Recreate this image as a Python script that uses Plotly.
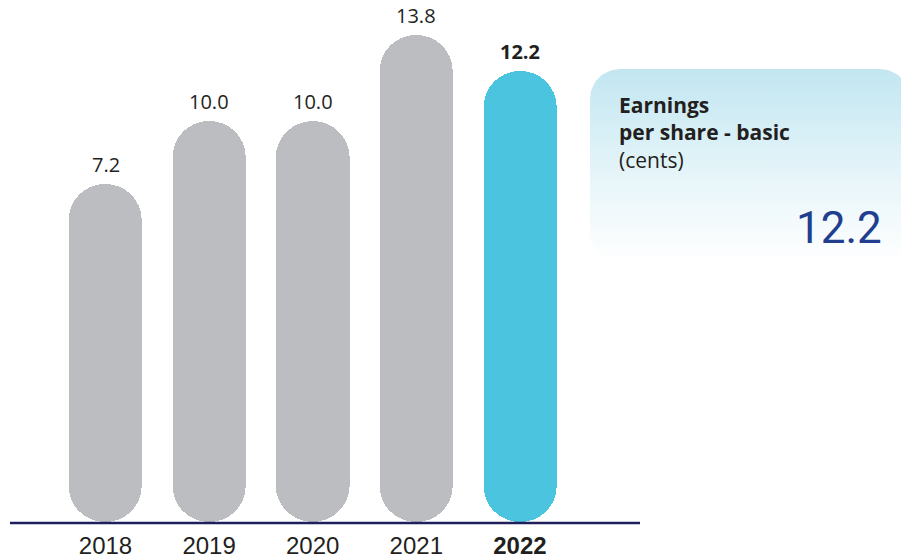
import numpy as np
import plotly.graph_objects as go

# ---- data ----
years = ["2018", "2019", "2020", "2021", "2022"]
eps_cents = [7.2, 10.0, 10.0, 13.8, 12.2]
highlight_year = "2022"
box_title = "<b>Earnings<br>per share - basic</b><br>(cents)"
box_value = "12.2"

# ---- style ----
GRAY = "#bcbdc1"
CYAN = "#4bc5df"
TEXT = "#231f20"
NAVY = "#1f1f5c"
BIG = "#213f8e"
W, H = 901, 558
BASE = -7.84          # axis value at the drawn baseline
PX_PER_UNIT = 22.5
Y_BOTTOM_PX = 522

colors = [CYAN if y == highlight_year else GRAY for y in years]
fig = go.Figure()

# upper half: rounded top
fig.add_trace(go.Bar(
    x=years, y=[v - BASE for v in eps_cents], base=BASE,
    marker=dict(color=colors, cornerradius="50%", line=dict(width=0)),
    width=0.705, hoverinfo="skip", showlegend=False))
# lower half: rounded bottom (bar drawn downward from value)
fig.add_trace(go.Bar(
    x=years, y=[BASE - v for v in eps_cents], base=eps_cents,
    marker=dict(color=colors, cornerradius="50%", line=dict(width=0)),
    width=0.705, hoverinfo="skip", showlegend=False))

# value labels
for i, (y, v) in enumerate(zip(years, eps_cents)):
    txt = f"{v:.1f}"
    if y == highlight_year:
        txt = f"<b>{txt}</b>"
    fig.add_annotation(x=i, y=v, text=txt, showarrow=False, yanchor="bottom",
                       yshift=4, font=dict(family="Open Sans", size=20, color=TEXT))

# gradient info box (pixel-coordinate overlay axes)
x0, x1, y0, y1, r = 590, 910, 69, 262, 30
t = np.linspace(0, np.pi / 2, 20)
path_x, path_y = [], []
for cx, cy, a0 in [(x1 - r, y0 + r, -np.pi / 2), (x1 - r, y1 - r, 0),
                   (x0 + r, y1 - r, np.pi / 2), (x0 + r, y0 + r, np.pi)]:
    ang = a0 + t
    path_x += list(cx + r * np.cos(ang))
    path_y += list(cy + r * np.sin(ang))
path_x.append(path_x[0]); path_y.append(path_y[0])
fig.add_trace(go.Scatter(
    x=path_x, y=path_y, xaxis="x2", yaxis="y2", mode="lines",
    line=dict(width=0), fill="toself", hoverinfo="skip", showlegend=False,
    fillgradient=dict(type="vertical", start=y0, stop=y1,
                      colorscale=[[0, "#c2e6f1"], [0.6, "#e9f6fa"], [1, "#ffffff"]])))

fig.add_annotation(xref="paper", yref="paper", x=617 / W, y=1 - 89 / H,
                   xanchor="left", yanchor="top", align="left", showarrow=False,
                   text=box_title, font=dict(family="Open Sans", size=21, color=TEXT))
fig.add_annotation(xref="paper", yref="paper", x=884 / W, y=1 - 228 / H,
                   xanchor="right", yanchor="middle", showarrow=False,
                   text=box_value, font=dict(family="Roboto", size=44, color=BIG))

# baseline
fig.add_shape(type="line", xref="paper", yref="paper",
              x0=10 / W, x1=640 / W, y0=1 - 523 / H, y1=1 - 523 / H,
              line=dict(color=NAVY, width=2.5), layer="above")

ticktext = [f"<b>{y}</b>" if y == highlight_year else y for y in years]
fig.update_layout(
    width=W, height=H, margin=dict(l=0, r=0, t=0, b=0),
    paper_bgcolor="white", plot_bgcolor="rgba(0,0,0,0)",
    barmode="overlay", bargap=0,
    xaxis=dict(domain=[53.7 / W, 571.7 / W], type="category", tickmode="array",
               range=[-0.5, len(years) - 0.5], autorange=False, automargin=False,
               tickvals=years, ticktext=ticktext, showgrid=False, zeroline=False,
               showline=False, ticks="", ticklabelstandoff=7, tickangle=0,
               tickfont=dict(family="Liberation Sans, Arial", size=24, color=TEXT)),
    yaxis=dict(domain=[1 - Y_BOTTOM_PX / H, 1], range=[BASE, BASE + Y_BOTTOM_PX / PX_PER_UNIT],
               autorange=False, visible=False, automargin=False),
    xaxis2=dict(domain=[0, 1], range=[0, W], visible=False, anchor="y2", automargin=False),
    yaxis2=dict(domain=[0, 1], range=[H, 0], visible=False, anchor="x2", automargin=False),
    font=dict(family="Open Sans", color=TEXT),
)

fig.write_html("out.html", config={"displayModeBar": False},
               post_script="document.body.style.margin='0';document.body.style.overflow='hidden';")
